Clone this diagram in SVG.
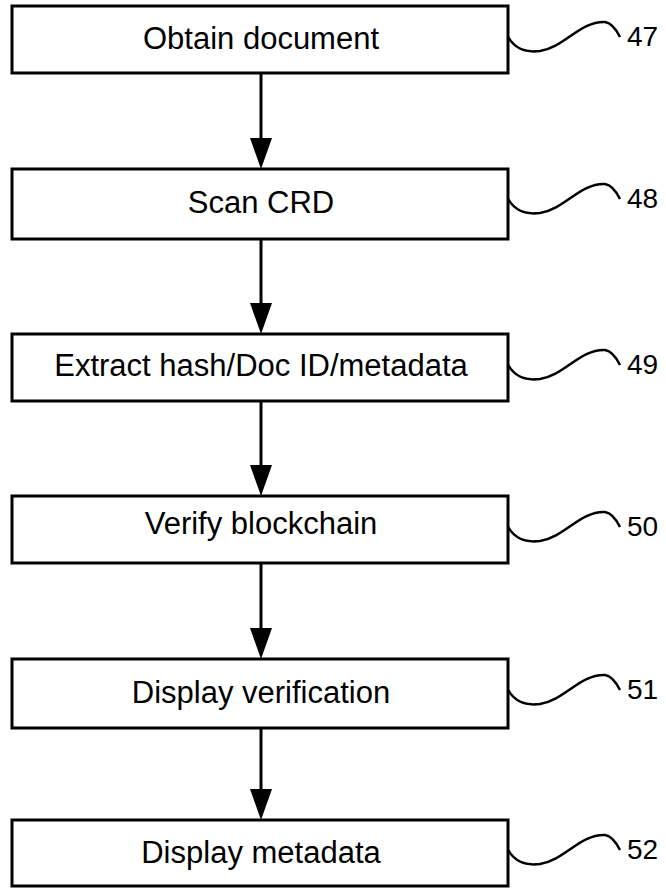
<svg xmlns="http://www.w3.org/2000/svg" width="666" height="888" viewBox="0 0 666 888">
<style>
.box{fill:#fff;stroke:#000;stroke-width:3}
.t{font-family:"Liberation Sans",Arial,sans-serif;font-size:31px;text-anchor:middle;fill:#000}
.n{font-family:"Liberation Sans",Arial,sans-serif;font-size:28px;fill:#000}
.sq{fill:none;stroke:#000;stroke-width:2.5}
.ln{stroke:#000;stroke-width:3}
</style>
<defs>
<path id="squig" d="M0,0 C7,12 17,16 32,14 C57,10 72,-16 97,-15 C104,-14 109,-6 112,0"/>
</defs>
<rect width="666" height="888" fill="#fff"/>
<g id="connectors">
<line class="ln" x1="261" y1="73" x2="261" y2="142"/>
<polygon points="250,138 272,138 261,169"/>
<line class="ln" x1="261" y1="239" x2="261" y2="307"/>
<polygon points="250,303 272,303 261,334"/>
<line class="ln" x1="261" y1="401" x2="261" y2="469"/>
<polygon points="250,465 272,465 261,496"/>
<line class="ln" x1="261" y1="563" x2="261" y2="632"/>
<polygon points="250,628 272,628 261,659"/>
<line class="ln" x1="261" y1="728" x2="261" y2="793"/>
<polygon points="250,789 272,789 261,820"/>
</g>
<g id="n47">
<rect class="box" x="12" y="6" width="496" height="67"/>
<text class="t" x="261" y="49">Obtain document</text>
<use href="#squig" class="sq" x="508" y="37"/>
<text class="n" x="627" y="46">47</text>
</g>
<g id="n48">
<rect class="box" x="12" y="169" width="496" height="70"/>
<text class="t" x="261" y="213">Scan CRD</text>
<use href="#squig" class="sq" x="508" y="199"/>
<text class="n" x="627" y="208">48</text>
</g>
<g id="n49">
<rect class="box" x="12" y="334" width="496" height="67"/>
<text class="t" x="261" y="376">Extract hash/Doc ID/metadata</text>
<use href="#squig" class="sq" x="508" y="365"/>
<text class="n" x="627" y="374">49</text>
</g>
<g id="n50">
<rect class="box" x="12" y="496" width="496" height="67"/>
<text class="t" x="261" y="534">Verify blockchain</text>
<use href="#squig" class="sq" x="508" y="527"/>
<text class="n" x="627" y="536">50</text>
</g>
<g id="n51">
<rect class="box" x="12" y="659" width="496" height="69"/>
<text class="t" x="261" y="703">Display verification</text>
<use href="#squig" class="sq" x="508" y="690"/>
<text class="n" x="627" y="699">51</text>
</g>
<g id="n52">
<rect class="box" x="12" y="820" width="496" height="66"/>
<text class="t" x="261" y="863">Display metadata</text>
<use href="#squig" class="sq" x="508" y="850"/>
<text class="n" x="627" y="859">52</text>
</g>
</svg>
